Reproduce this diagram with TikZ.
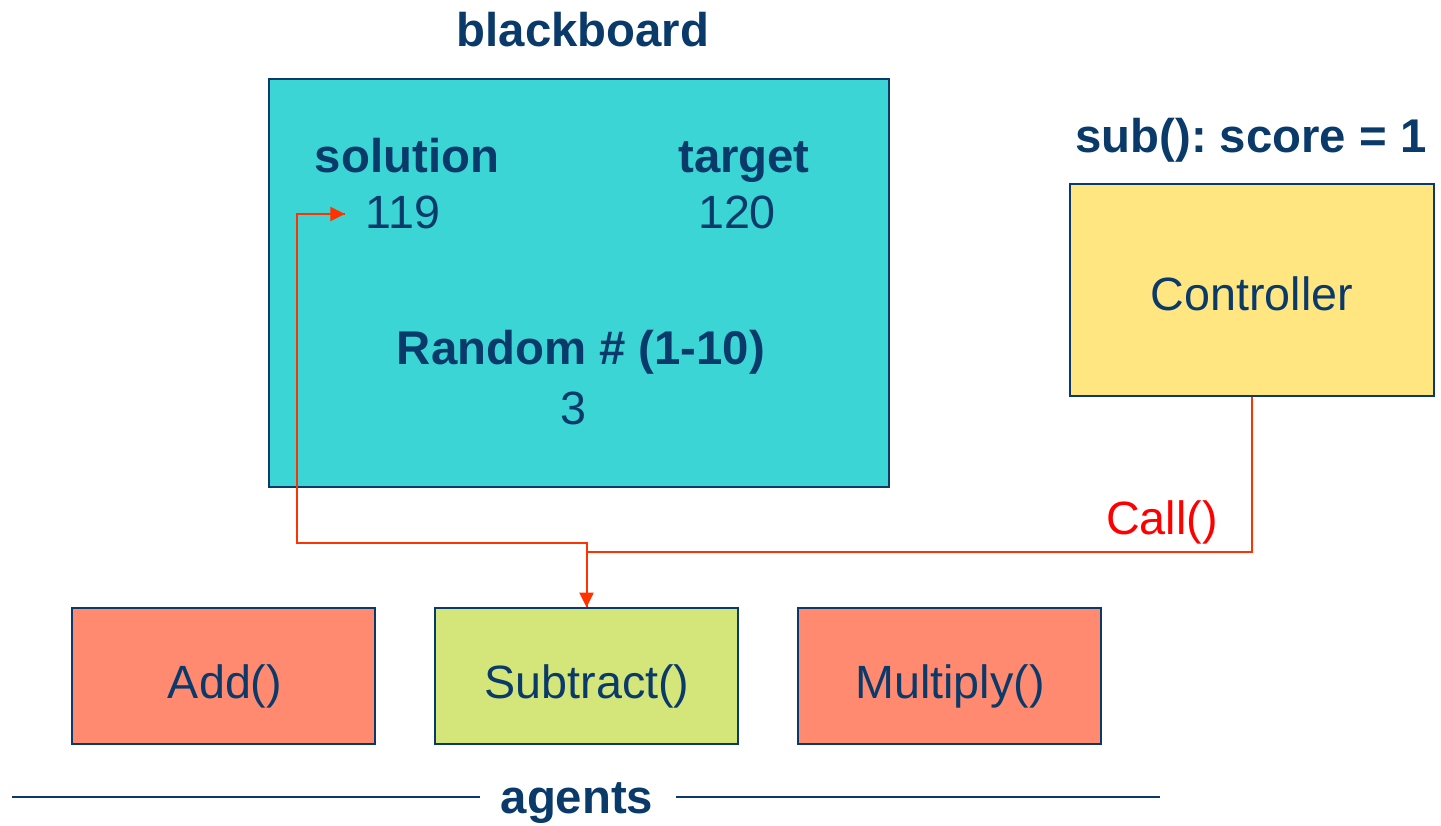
\documentclass[tikz,border=0pt]{standalone}
\usepackage{fontspec}
\setmainfont{Liberation Sans}
\usetikzlibrary{arrows.meta}
\frenchspacing
\definecolor{navy}{HTML}{0A3A6A}
\definecolor{bbcyan}{HTML}{3BD5D6}
\definecolor{ctrlyel}{HTML}{FFE680}
\definecolor{salmon}{HTML}{FF8A70}
\definecolor{lgreen}{HTML}{D4E57A}
\definecolor{conred}{HTML}{FF3300}
\tikzset{
  box/.style={draw=navy, line width=1pt, inner sep=0pt},
  lbl/.style={text=navy, font=\fontsize{35}{40}\selectfont, inner sep=0pt, anchor=base},
  blbl/.style={lbl, font=\fontsize{35.5}{40}\selectfont\bfseries},
  conn/.style={draw=conred, line width=1.5pt},
  tip/.style={-{Triangle[length=11pt,width=10.5pt]}},
  rule/.style={draw=navy, line width=1.5pt}
}
\begin{document}
\begin{tikzpicture}[x=0.75pt,y=-0.75pt]
\useasboundingbox (0,0) rectangle (1441,825);
% blackboard
\node[blbl] (bbt) at (583,46) {blackboard};
\node[box, fill=bbcyan, minimum width=465pt, minimum height=306pt] (bb) at (579,283) {};
\node[blbl] (sol) at (407,172) {solution};
\node[lbl] (v119) at (403,228) {119};
\node[blbl] (tgt) at (744,172) {target};
\node[lbl] (v120) at (737,228) {120};
\node[blbl] (rnd) at (581,364) {Random \# (1-10)};
\node[lbl] (v3) at (573,424) {3};
% controller
\node[blbl] (score) at (1251,152) {sub(): score = 1};
\node[box, fill=ctrlyel, minimum width=273pt, minimum height=159pt] (ctrl) at (1252,290) {};
\node[lbl] (ctrlt) at (1252,310) {Controller};
% agents
\node[box, fill=salmon, minimum width=227.25pt, minimum height=102pt] (add) at (223.5,676) {};
\node[lbl] (addt) at (225,698) {Add()};
\node[box, fill=lgreen, minimum width=227.25pt, minimum height=102pt] (sub) at (586.5,676) {};
\node[lbl] (subt) at (587,698) {Subtract()};
\node[box, fill=salmon, minimum width=227.25pt, minimum height=102pt] (mul) at (949.5,676) {};
\node[lbl] (mult) at (950,698) {Multiply()};
% connectors
\coordinate (j1) at (586.5,552);
\coordinate (j2) at (586.5,543);
\coordinate (c2) at (297,543);
\coordinate (tipend) at (345,214);
\draw[conn] (sub.north) -- (j2) -- (c2) |- (tipend);
\draw[conn,tip] (ctrl.south) |- (j1) -- (sub.north);
\draw[conn,tip] (c2 |- tipend) -- (tipend);
\node[lbl, text=red] (call) at (1162,534) {Call()};
% agents label
\node[blbl] (ag) at (577,813) {agents};
\coordinate (l1a) at (12,797);
\coordinate (l1b) at (480,797);
\coordinate (l2a) at (676,797);
\coordinate (l2b) at (1160,797);
\draw[rule] (l1a) -- (l1b);
\draw[rule] (l2a) -- (l2b);
\end{tikzpicture}
\end{document}
